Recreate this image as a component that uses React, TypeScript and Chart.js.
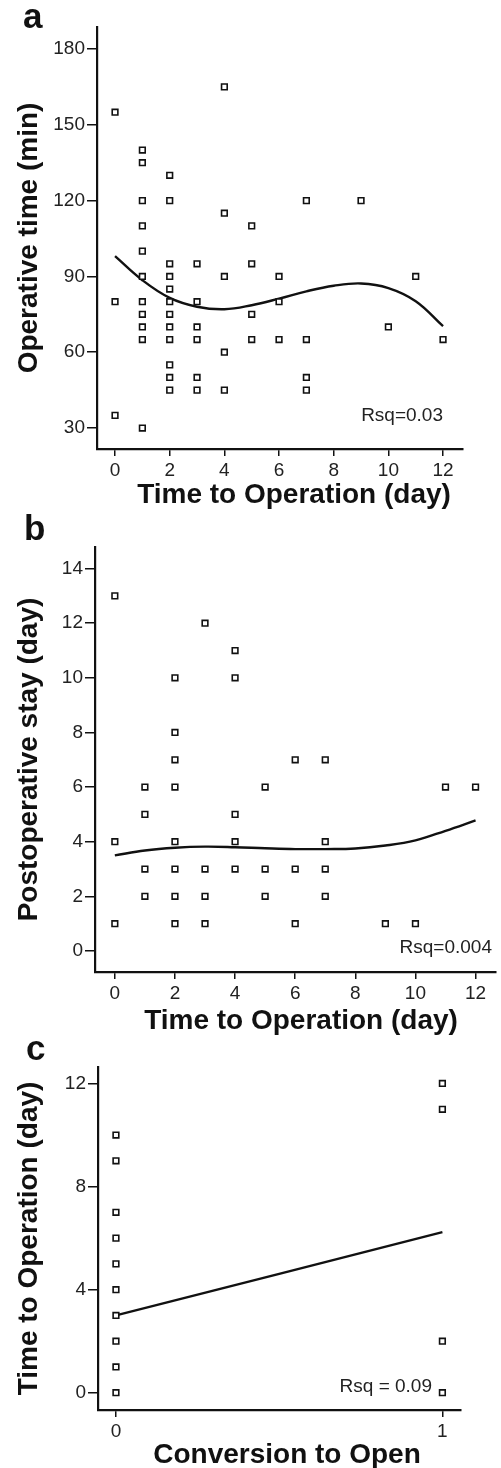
import React, { useEffect, useRef } from "react";
import { Chart, registerables } from "chart.js";

Chart.register(...registerables);

const FONT = "'Liberation Sans', Arial, Helvetica, sans-serif";
const INK = "#111";
const TICK_INK = "#222";

// ---------- Panel a: Operative time vs time to operation ----------
const opDays = [
  0, 0, 0,
  1, 1, 1, 1, 1, 1, 1, 1, 1, 1, 1,
  2, 2, 2, 2, 2, 2, 2, 2, 2, 2, 2, 2,
  3, 3, 3, 3, 3, 3,
  4, 4, 4, 4, 4,
  5, 5, 5, 5,
  6, 6, 6,
  7, 7, 7, 7,
  9, 10, 11, 12,
];
const opMinutes = [
  155, 80, 35,
  140, 135, 120, 110, 100, 90, 80, 75, 70, 65, 30,
  130, 120, 95, 90, 85, 80, 75, 70, 65, 55, 50, 45,
  95, 80, 70, 65, 50, 45,
  165, 115, 90, 60, 45,
  110, 95, 75, 65,
  90, 80, 65,
  120, 65, 50, 45,
  120, 70, 90, 65,
];
const opFitDays = [0, 1, 2, 3, 4, 5, 6, 7, 8, 9, 10, 11, 12];
const opFitMinutes = [98, 88.5, 81.5, 78, 77, 78.6, 81.2, 84.1, 86.3, 87.2, 85.4, 80.2, 70.3];
const opMinuteTicks = [30, 60, 90, 120, 150, 180];
const dayTicks = [0, 2, 4, 6, 8, 10, 12];

// ---------- Panel b: Postoperative stay vs time to operation ----------
const stayDays = [
  0, 0, 0,
  1, 1, 1, 1,
  2, 2, 2, 2, 2, 2, 2, 2,
  3, 3, 3, 3,
  4, 4, 4, 4, 4,
  5, 5, 5,
  6, 6, 6,
  7, 7, 7, 7,
  9, 10, 11, 12,
];
const stayLength = [
  13, 4, 1,
  6, 5, 3, 2,
  10, 8, 7, 6, 4, 3, 2, 1,
  12, 3, 2, 1,
  11, 10, 5, 4, 3,
  6, 3, 2,
  7, 3, 1,
  7, 4, 3, 2,
  1, 1, 6, 6,
];
const stayFitDays = [0, 1, 2, 3, 4, 5, 6, 7, 8, 9, 10, 11, 12];
const stayFitLength = [3.5, 3.68, 3.78, 3.82, 3.8, 3.76, 3.73, 3.73, 3.75, 3.86, 4.05, 4.4, 4.78];
const stayTicks = [0, 2, 4, 6, 8, 10, 12, 14];

// ---------- Panel c: Time to operation vs conversion to open ----------
const conversion = [0, 0, 0, 0, 0, 0, 0, 0, 0, 0, 1, 1, 1, 1];
const convDays = [10, 9, 7, 6, 5, 4, 3, 2, 1, 0, 12, 11, 2, 0];
const convFitX = [0, 1];
const convFitDays = [3.0, 6.23];
const convDayTicks = [0, 4, 8, 12];
const conversionTicks = [0, 1];

type Spec = {
  xs: number[]; ys: number[]; fitX: number[]; fitY: number[];
  xMin: number; xMax: number; yMin: number; yMax: number;
  xTicks: number[]; yTicks: number[];
  yTitle: string; xTitle: string; xTitleAt: [number, number];
  letter: string; letterAt: [number, number];
  rsq: string; rsqAt: [number, number];
  area: { left: number; right: number; top: number; bottom: number };
  height: number; top: number; yTitlePad: number;
};

const W = 501;

function buildConfig(p: Spec): any {
  const tickFont = { family: FONT, size: 19 };
  const annot = {
    id: "annot",
    afterDraw(chart: any) {
      const ctx = chart.ctx;
      ctx.save();
      ctx.fillStyle = INK;
      ctx.textBaseline = "alphabetic";
      ctx.font = `bold 28px ${FONT}`;
      ctx.textAlign = "center";
      ctx.fillText(p.xTitle, p.xTitleAt[0], p.xTitleAt[1]);
      ctx.font = `bold 35px ${FONT}`;
      ctx.textAlign = "left";
      ctx.fillText(p.letter, p.letterAt[0], p.letterAt[1]);
      ctx.font = `19px ${FONT}`;
      ctx.fillStyle = TICK_INK;
      ctx.textAlign = "right";
      ctx.fillText(p.rsq, p.rsqAt[0], p.rsqAt[1]);
      ctx.restore();
    },
  };
  return {
    type: "scatter",
    data: {
      datasets: [
        {
          data: p.xs.map((x, i) => ({ x, y: p.ys[i] })),
          pointStyle: "rect",
          pointRadius: 4,
          pointHoverRadius: 4,
          pointBorderWidth: 1.6,
          pointBackgroundColor: "#fff",
          pointBorderColor: INK,
          order: 0,
        },
        {
          data: p.fitX.map((x, i) => ({ x, y: p.fitY[i] })),
          showLine: true,
          borderColor: INK,
          borderWidth: 2.4,
          pointRadius: 0,
          pointHoverRadius: 0,
          tension: 0.4,
          fill: false,
          order: 1,
        },
      ],
    },
    options: {
      responsive: false,
      animation: false,
      events: [],
      layout: { padding: { top: p.area.top, right: W - p.area.right, left: 0, bottom: 0 } },
      plugins: { legend: { display: false }, tooltip: { enabled: false } },
      scales: {
        x: {
          type: "linear",
          min: p.xMin,
          max: p.xMax,
          afterBuildTicks: (s: any) => { s.ticks = p.xTicks.map((v) => ({ value: v })); },
          afterFit: (s: any) => { s.height = p.height - p.area.bottom; },
          grid: { display: true, drawOnChartArea: false, drawTicks: true, tickLength: 7, color: INK, lineWidth: 1.5 },
          border: { display: true, color: INK, width: 2.2 },
          ticks: { font: tickFont, color: TICK_INK, padding: 3, autoSkip: false, maxRotation: 0 },
          title: { display: false },
        },
        y: {
          type: "linear",
          min: p.yMin,
          max: p.yMax,
          afterBuildTicks: (s: any) => { s.ticks = p.yTicks.map((v) => ({ value: v })); },
          afterFit: (s: any) => { s.width = p.area.left; },
          grid: { display: true, drawOnChartArea: false, drawTicks: true, tickLength: 10, color: INK, lineWidth: 1.5 },
          border: { display: true, color: INK, width: 2.2 },
          ticks: { font: tickFont, color: TICK_INK, padding: 2, autoSkip: false },
          title: {
            display: true,
            text: p.yTitle,
            color: INK,
            font: { family: FONT, size: 28, weight: "bold" },
            padding: { top: p.yTitlePad, bottom: 0 },
          },
        },
      },
    },
    plugins: [annot],
  };
}

const panels: Spec[] = [
  {
    xs: opDays, ys: opMinutes, fitX: opFitDays, fitY: opFitMinutes,
    xMin: -0.66, xMax: 12.73, yMin: 21.7, yMax: 188.7,
    xTicks: dayTicks, yTicks: opMinuteTicks,
    yTitle: "Operative time (min)", xTitle: "Time to Operation (day)", xTitleAt: [294, 503],
    letter: "a", letterAt: [23, 28],
    rsq: "Rsq=0.03", rsqAt: [443, 421],
    area: { left: 97, right: 463, top: 27, bottom: 449 },
    height: 512, top: 0, yTitlePad: 12,
  },
  {
    xs: stayDays, ys: stayLength, fitX: stayFitDays, fitY: stayFitLength,
    xMin: -0.66, xMax: 12.66, yMin: -0.77, yMax: 14.79,
    xTicks: dayTicks, yTicks: stayTicks,
    yTitle: "Postoperative stay (day)", xTitle: "Time to Operation (day)", xTitleAt: [301, 517],
    letter: "b", letterAt: [24, 28],
    rsq: "Rsq=0.004", rsqAt: [492, 441],
    area: { left: 95, right: 500, top: 35, bottom: 460 },
    height: 528, top: 512, yTitlePad: 12,
  },
  {
    xs: conversion, ys: convDays, fitX: convFitX, fitY: convFitDays,
    xMin: -0.055, xMax: 1.057, yMin: -0.67, yMax: 12.64,
    xTicks: conversionTicks, yTicks: convDayTicks,
    yTitle: "Time to Operation (day)", xTitle: "Conversion to Open", xTitleAt: [287, 423],
    letter: "c", letterAt: [26, 20],
    rsq: "Rsq = 0.09", rsqAt: [432, 352],
    area: { left: 98, right: 461, top: 27, bottom: 370 },
    height: 428, top: 1040, yTitlePad: 12,
  },
];

function Panel({ spec }: { spec: Spec }) {
  const ref = useRef<HTMLCanvasElement>(null);
  useEffect(() => {
    const chart = new Chart(ref.current as HTMLCanvasElement, buildConfig(spec));
    return () => chart.destroy();
  }, [spec]);
  return (
    <canvas
      ref={ref}
      width={W}
      height={spec.height}
      style={{ position: "absolute", left: 0, top: spec.top, display: "block" }}
    />
  );
}

export default function App() {
  return (
    <div style={{ position: "absolute", left: 0, top: 0, width: W, height: 1468, background: "#fff" }}>
      {panels.map((p, i) => (
        <Panel key={i} spec={p} />
      ))}
    </div>
  );
}
